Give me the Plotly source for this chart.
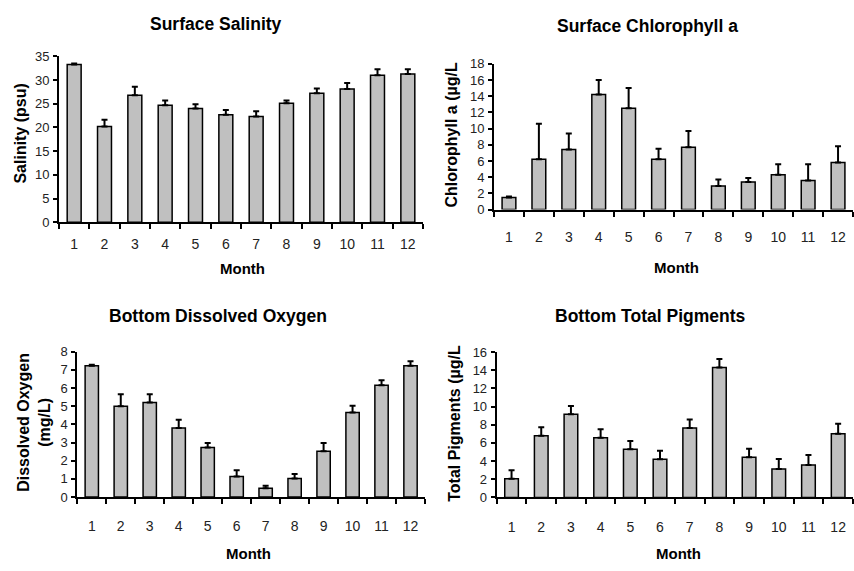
import plotly.graph_objects as go

# Monthly means with standard errors
months = ["1", "2", "3", "4", "5", "6", "7", "8", "9", "10", "11", "12"]

salinity = [33.3, 20.2, 26.8, 24.7, 24.0, 22.7, 22.3, 25.1, 27.2, 28.1, 31.0, 31.3]
salinity_se = [0.2, 1.4, 1.8, 1.0, 0.9, 1.0, 1.1, 0.6, 1.0, 1.3, 1.3, 1.0]

chl = [1.5, 6.2, 7.4, 14.2, 12.5, 6.2, 7.7, 2.9, 3.4, 4.3, 3.6, 5.8]
chl_se = [0.1, 4.4, 2.0, 1.8, 2.5, 1.3, 2.0, 0.8, 0.5, 1.3, 2.0, 2.0]

oxygen = [7.23, 5.0, 5.2, 3.8, 2.73, 1.13, 0.48, 1.02, 2.52, 4.66, 6.16, 7.23]
oxygen_se = [0.05, 0.66, 0.46, 0.45, 0.25, 0.35, 0.15, 0.25, 0.46, 0.36, 0.27, 0.25]

pigments = [2.07, 6.79, 9.14, 6.57, 5.29, 4.21, 7.64, 14.29, 4.43, 3.14, 3.57, 7.0]
pigments_se = [0.93, 0.92, 0.93, 0.93, 0.93, 0.93, 0.93, 0.93, 0.93, 1.1, 1.1, 1.1]

W, H = 854, 571
FONT = "Liberation Sans, Arial, Helvetica, sans-serif"


def px(x):
    return x / W


def py(y):
    return 1 - y / H


panels = [
    dict(vals=salinity, err=salinity_se, title="Surface Salinity",
         ytitle="Salinity (psu)", ymax=35, dtick=5,
         xdom=(59, 423), ydom=(221, 50.7), tpos=(216, 17), ypos=(21, 130),
         mpos=(243, 269), standoff=8),
    dict(vals=chl, err=chl_se, title="Surface Chlorophyll a",
         ytitle="Chlorophyll a (µg/L", ymax=18, dtick=2,
         xdom=(494, 853), ydom=(208, 58.3), tpos=(647, 20), ypos=(452, 132),
         mpos=(676, 268), standoff=14),
    dict(vals=oxygen, err=oxygen_se, title="Bottom Dissolved Oxygen",
         ytitle="Dissolved Oxygen<br>(mg/L)", ymax=8, dtick=1,
         xdom=(77.3, 425), ydom=(503.3, 354), tpos=(218, 317), ypos=(34, 427),
         mpos=(248, 561), standoff=15),
    dict(vals=pigments, err=pigments_se, title="Bottom Total Pigments",
         ytitle="Total Pigments (µg/L", ymax=16, dtick=2,
         xdom=(496.7, 853), ydom=(503.7, 354.3), tpos=(650, 317), ypos=(455, 428),
         mpos=(678, 561), standoff=16),
]

fig = go.Figure()
annotations = []
layout_axes = {}

for i, p in enumerate(panels, start=1):
    xa = "x" if i == 1 else f"x{i}"
    ya = "y" if i == 1 else f"y{i}"
    fig.add_trace(go.Bar(
        x=months, y=p["vals"], xaxis=xa, yaxis=ya, width=0.46,
        marker=dict(color="#c0c0c0", line=dict(color="black", width=1.5)),
        error_y=dict(type="data", array=p["err"], arrayminus=[0] * 12,
                     symmetric=False, color="black", thickness=2, width=3),
        showlegend=False, hoverinfo="skip",
    ))
    xkey = "xaxis" if i == 1 else f"xaxis{i}"
    ykey = "yaxis" if i == 1 else f"yaxis{i}"
    layout_axes[xkey] = dict(
        domain=[px(p["xdom"][0]), px(p["xdom"][1])], anchor=ya,
        type="category", range=[-0.5, 11.5], tickson="boundaries",
        ticks="outside", ticklen=5, tickwidth=2, tickcolor="black",
        showline=True, linecolor="black", linewidth=2, showgrid=False,
        zeroline=False, ticklabelstandoff=p["standoff"],
        tickfont=dict(family=FONT, size=14, color="#222"),
    )
    layout_axes[ykey] = dict(
        domain=[py(p["ydom"][0]), py(p["ydom"][1])], anchor=xa,
        range=[0, p["ymax"]], dtick=p["dtick"], tick0=0,
        ticks="outside", ticklen=4, tickwidth=1.5, tickcolor="black",
        showline=True, linecolor="black", linewidth=2, showgrid=False,
        zeroline=False, ticklabelstandoff=1,
        tickfont=dict(family=FONT, size=13, color="#222"),
    )
    annotations.append(dict(
        text=p["title"], x=px(p["tpos"][0]), y=py(p["tpos"][1]),
        xref="paper", yref="paper", showarrow=False,
        xanchor="center", yanchor="middle",
        font=dict(family=FONT, size=17.5, color="black", weight="bold"),
    ))
    annotations.append(dict(
        text=p["ytitle"], x=px(p["ypos"][0]), y=py(p["ypos"][1]),
        xref="paper", yref="paper", showarrow=False, textangle=-90,
        xanchor="center", yanchor="middle",
        font=dict(family=FONT, size=16, color="black", weight="bold"),
    ))
    annotations.append(dict(
        text="Month", x=px(p["mpos"][0]), y=py(p["mpos"][1]),
        xref="paper", yref="paper", showarrow=False,
        xanchor="center", yanchor="middle",
        font=dict(family=FONT, size=15, color="black", weight="bold"),
    ))

fig.update_layout(
    width=W, height=H, margin=dict(l=0, r=0, t=0, b=0),
    paper_bgcolor="white", plot_bgcolor="white",
    annotations=annotations, bargap=0.5,
    **layout_axes,
)

fig.write_html("out.html")
